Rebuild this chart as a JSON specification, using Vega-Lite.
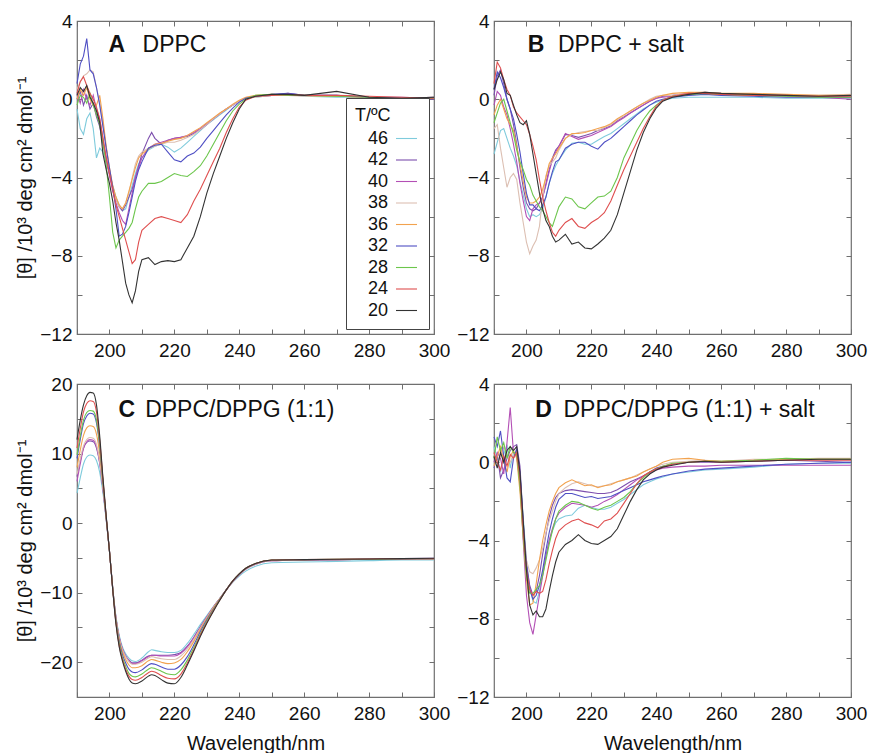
{
"$schema": "https://vega.github.io/schema/vega-lite/v6.json",
"autosize": {"type": "pad"},
"padding": {"left": 15, "top": 11, "right": 2, "bottom": 4},
"background": "white",
"config": {
  "font": "Liberation Sans",
  "view": {"stroke": "#6f6f6f", "strokeWidth": 1.2},
  "axis": {"domain": false, "grid": false, "tickColor": "#6f6f6f", "tickSize": -5, "tickWidth": 1, "labelFont": "Liberation Sans", "labelFontSize": 19, "labelColor": "#111111", "titleFont": "Liberation Sans", "titleFontSize": 20, "titleFontWeight": "normal", "titleColor": "#111111", "labelOverlap": false, "labelFlush": false},
  "axisX": {"labelPadding": 12, "titlePadding": 10},
  "axisY": {"labelPadding": 10, "titlePadding": 4},
  "line": {"strokeWidth": 1.1}
},
"datasets": {
"A": [
{"t":46,"w":190,"v":-0.5},{"t":46,"w":191,"v":-1.5},{"t":46,"w":192,"v":-1.8},{"t":46,"w":193,"v":-1.0},{"t":46,"w":194,"v":-0.7},{"t":46,"w":195,"v":-1.5},{"t":46,"w":196,"v":-3.0},{"t":46,"w":197,"v":-2.5},{"t":46,"w":198,"v":-2.7},{"t":46,"w":199,"v":-3.3},{"t":46,"w":200,"v":-3.8},{"t":46,"w":201,"v":-4.4},{"t":46,"w":202,"v":-5.0},{"t":46,"w":203,"v":-5.4},{"t":46,"w":204,"v":-5.7},{"t":46,"w":205,"v":-5.6},{"t":46,"w":206,"v":-5.0},{"t":46,"w":207,"v":-4.4},{"t":46,"w":208,"v":-3.8},{"t":46,"w":209,"v":-3.3},{"t":46,"w":210,"v":-3.0},{"t":46,"w":212,"v":-2.6},{"t":46,"w":214,"v":-2.4},{"t":46,"w":216,"v":-2.3},{"t":46,"w":218,"v":-2.45},{"t":46,"w":220,"v":-2.7},{"t":46,"w":222,"v":-2.5},{"t":46,"w":224,"v":-2.2},{"t":46,"w":226,"v":-1.9},{"t":46,"w":228,"v":-1.6},{"t":46,"w":230,"v":-1.3},{"t":46,"w":232,"v":-1.05},{"t":46,"w":234,"v":-0.8},{"t":46,"w":236,"v":-0.55},{"t":46,"w":238,"v":-0.3},{"t":46,"w":240,"v":-0.1},{"t":46,"w":242,"v":0.05},{"t":46,"w":245,"v":0.1},{"t":46,"w":250,"v":0.2},{"t":46,"w":255,"v":0.25},{"t":46,"w":260,"v":0.15},{"t":46,"w":270,"v":0.1},{"t":46,"w":280,"v":0.1},{"t":46,"w":290,"v":0.0},{"t":46,"w":300,"v":0.05},
{"t":42,"w":190,"v":0.0},{"t":42,"w":191,"v":0.4},{"t":42,"w":192,"v":-0.3},{"t":42,"w":193,"v":0.2},{"t":42,"w":194,"v":-0.5},{"t":42,"w":195,"v":-0.2},{"t":42,"w":196,"v":-0.9},{"t":42,"w":197,"v":-1.4},{"t":42,"w":198,"v":-2.3},{"t":42,"w":199,"v":-3.0},{"t":42,"w":200,"v":-3.8},{"t":42,"w":201,"v":-4.5},{"t":42,"w":202,"v":-5.1},{"t":42,"w":203,"v":-5.5},{"t":42,"w":204,"v":-5.7},{"t":42,"w":205,"v":-5.4},{"t":42,"w":206,"v":-5.0},{"t":42,"w":207,"v":-4.6},{"t":42,"w":208,"v":-4.0},{"t":42,"w":209,"v":-3.4},{"t":42,"w":210,"v":-2.8},{"t":42,"w":212,"v":-2.0},{"t":42,"w":213,"v":-1.7},{"t":42,"w":214,"v":-2.0},{"t":42,"w":216,"v":-2.3},{"t":42,"w":218,"v":-2.1},{"t":42,"w":220,"v":-2.0},{"t":42,"w":222,"v":-1.95},{"t":42,"w":224,"v":-1.9},{"t":42,"w":226,"v":-1.75},{"t":42,"w":228,"v":-1.55},{"t":42,"w":230,"v":-1.3},{"t":42,"w":232,"v":-1.0},{"t":42,"w":234,"v":-0.75},{"t":42,"w":236,"v":-0.5},{"t":42,"w":238,"v":-0.3},{"t":42,"w":240,"v":-0.1},{"t":42,"w":242,"v":0.05},{"t":42,"w":245,"v":0.15},{"t":42,"w":250,"v":0.2},{"t":42,"w":255,"v":0.3},{"t":42,"w":260,"v":0.2},{"t":42,"w":270,"v":0.2},{"t":42,"w":280,"v":0.1},{"t":42,"w":290,"v":0.05},{"t":42,"w":300,"v":0.0},
{"t":40,"w":190,"v":0.3},{"t":40,"w":191,"v":-0.2},{"t":40,"w":192,"v":0.5},{"t":40,"w":193,"v":0.0},{"t":40,"w":194,"v":-0.3},{"t":40,"w":195,"v":0.2},{"t":40,"w":196,"v":-0.5},{"t":40,"w":197,"v":-1.0},{"t":40,"w":198,"v":-2.0},{"t":40,"w":199,"v":-3.0},{"t":40,"w":200,"v":-3.9},{"t":40,"w":201,"v":-4.7},{"t":40,"w":202,"v":-5.3},{"t":40,"w":203,"v":-5.8},{"t":40,"w":204,"v":-6.2},{"t":40,"w":205,"v":-6.4},{"t":40,"w":206,"v":-5.6},{"t":40,"w":207,"v":-4.8},{"t":40,"w":208,"v":-4.0},{"t":40,"w":209,"v":-3.5},{"t":40,"w":210,"v":-3.0},{"t":40,"w":212,"v":-2.5},{"t":40,"w":214,"v":-2.3},{"t":40,"w":216,"v":-2.2},{"t":40,"w":218,"v":-2.1},{"t":40,"w":220,"v":-2.0},{"t":40,"w":222,"v":-1.95},{"t":40,"w":224,"v":-1.85},{"t":40,"w":226,"v":-1.7},{"t":40,"w":228,"v":-1.5},{"t":40,"w":230,"v":-1.25},{"t":40,"w":232,"v":-1.0},{"t":40,"w":234,"v":-0.75},{"t":40,"w":236,"v":-0.5},{"t":40,"w":238,"v":-0.3},{"t":40,"w":240,"v":-0.1},{"t":40,"w":242,"v":0.05},{"t":40,"w":245,"v":0.15},{"t":40,"w":250,"v":0.2},{"t":40,"w":255,"v":0.25},{"t":40,"w":260,"v":0.2},{"t":40,"w":270,"v":0.15},{"t":40,"w":280,"v":0.1},{"t":40,"w":290,"v":0.1},{"t":40,"w":300,"v":0.05},
{"t":38,"w":190,"v":0.5},{"t":38,"w":191,"v":0.9},{"t":38,"w":192,"v":1.2},{"t":38,"w":193,"v":1.3},{"t":38,"w":194,"v":1.5},{"t":38,"w":195,"v":1.4},{"t":38,"w":196,"v":0.6},{"t":38,"w":197,"v":-0.2},{"t":38,"w":198,"v":-1.3},{"t":38,"w":199,"v":-2.5},{"t":38,"w":200,"v":-3.6},{"t":38,"w":201,"v":-4.5},{"t":38,"w":202,"v":-5.1},{"t":38,"w":203,"v":-5.5},{"t":38,"w":204,"v":-5.6},{"t":38,"w":205,"v":-5.3},{"t":38,"w":206,"v":-4.8},{"t":38,"w":207,"v":-4.0},{"t":38,"w":208,"v":-3.3},{"t":38,"w":209,"v":-2.9},{"t":38,"w":210,"v":-2.7},{"t":38,"w":212,"v":-2.5},{"t":38,"w":214,"v":-2.4},{"t":38,"w":216,"v":-2.3},{"t":38,"w":218,"v":-2.2},{"t":38,"w":220,"v":-2.2},{"t":38,"w":222,"v":-2.1},{"t":38,"w":224,"v":-1.95},{"t":38,"w":226,"v":-1.8},{"t":38,"w":228,"v":-1.55},{"t":38,"w":230,"v":-1.3},{"t":38,"w":232,"v":-1.0},{"t":38,"w":234,"v":-0.75},{"t":38,"w":236,"v":-0.5},{"t":38,"w":238,"v":-0.3},{"t":38,"w":240,"v":-0.1},{"t":38,"w":242,"v":0.05},{"t":38,"w":245,"v":0.1},{"t":38,"w":250,"v":0.2},{"t":38,"w":255,"v":0.2},{"t":38,"w":260,"v":0.15},{"t":38,"w":270,"v":0.15},{"t":38,"w":280,"v":0.1},{"t":38,"w":290,"v":0.05},{"t":38,"w":300,"v":0.05},
{"t":36,"w":190,"v":0.0},{"t":36,"w":191,"v":0.5},{"t":36,"w":192,"v":0.2},{"t":36,"w":193,"v":0.6},{"t":36,"w":194,"v":0.0},{"t":36,"w":195,"v":-0.3},{"t":36,"w":196,"v":-0.3},{"t":36,"w":197,"v":0.2},{"t":36,"w":198,"v":-1.0},{"t":36,"w":199,"v":-2.4},{"t":36,"w":200,"v":-3.5},{"t":36,"w":201,"v":-4.4},{"t":36,"w":202,"v":-5.0},{"t":36,"w":203,"v":-5.4},{"t":36,"w":204,"v":-5.6},{"t":36,"w":205,"v":-5.3},{"t":36,"w":206,"v":-4.7},{"t":36,"w":207,"v":-4.1},{"t":36,"w":208,"v":-3.5},{"t":36,"w":209,"v":-3.0},{"t":36,"w":210,"v":-2.8},{"t":36,"w":212,"v":-2.55},{"t":36,"w":214,"v":-2.3},{"t":36,"w":216,"v":-2.25},{"t":36,"w":218,"v":-2.15},{"t":36,"w":220,"v":-2.05},{"t":36,"w":222,"v":-2.0},{"t":36,"w":224,"v":-1.85},{"t":36,"w":226,"v":-1.65},{"t":36,"w":228,"v":-1.45},{"t":36,"w":230,"v":-1.2},{"t":36,"w":232,"v":-0.95},{"t":36,"w":234,"v":-0.7},{"t":36,"w":236,"v":-0.5},{"t":36,"w":238,"v":-0.25},{"t":36,"w":240,"v":-0.05},{"t":36,"w":242,"v":0.1},{"t":36,"w":245,"v":0.2},{"t":36,"w":250,"v":0.25},{"t":36,"w":255,"v":0.2},{"t":36,"w":260,"v":0.2},{"t":36,"w":270,"v":0.15},{"t":36,"w":280,"v":0.1},{"t":36,"w":290,"v":0.05},{"t":36,"w":300,"v":0.1},
{"t":32,"w":190,"v":0.8},{"t":32,"w":191,"v":1.8},{"t":32,"w":192,"v":2.2},{"t":32,"w":193,"v":3.1},{"t":32,"w":194,"v":1.5},{"t":32,"w":195,"v":1.3},{"t":32,"w":196,"v":0.6},{"t":32,"w":197,"v":-0.3},{"t":32,"w":198,"v":-1.4},{"t":32,"w":199,"v":-2.5},{"t":32,"w":200,"v":-3.5},{"t":32,"w":201,"v":-4.5},{"t":32,"w":202,"v":-5.6},{"t":32,"w":203,"v":-7.0},{"t":32,"w":204,"v":-6.9},{"t":32,"w":205,"v":-6.5},{"t":32,"w":206,"v":-5.8},{"t":32,"w":207,"v":-5.0},{"t":32,"w":208,"v":-4.2},{"t":32,"w":209,"v":-3.6},{"t":32,"w":210,"v":-3.2},{"t":32,"w":212,"v":-2.5},{"t":32,"w":214,"v":-2.35},{"t":32,"w":216,"v":-2.3},{"t":32,"w":218,"v":-2.7},{"t":32,"w":220,"v":-3.1},{"t":32,"w":222,"v":-3.2},{"t":32,"w":224,"v":-2.9},{"t":32,"w":226,"v":-2.75},{"t":32,"w":228,"v":-2.45},{"t":32,"w":230,"v":-2.0},{"t":32,"w":232,"v":-1.6},{"t":32,"w":234,"v":-1.2},{"t":32,"w":236,"v":-0.8},{"t":32,"w":238,"v":-0.45},{"t":32,"w":240,"v":-0.15},{"t":32,"w":242,"v":0.05},{"t":32,"w":245,"v":0.15},{"t":32,"w":250,"v":0.25},{"t":32,"w":255,"v":0.3},{"t":32,"w":260,"v":0.2},{"t":32,"w":270,"v":0.2},{"t":32,"w":280,"v":0.1},{"t":32,"w":290,"v":0.05},{"t":32,"w":300,"v":0.1},
{"t":28,"w":190,"v":-0.3},{"t":28,"w":191,"v":0.2},{"t":28,"w":192,"v":0.1},{"t":28,"w":193,"v":-0.2},{"t":28,"w":194,"v":0.3},{"t":28,"w":195,"v":-0.3},{"t":28,"w":196,"v":-0.8},{"t":28,"w":197,"v":-1.3},{"t":28,"w":198,"v":-2.2},{"t":28,"w":199,"v":-3.4},{"t":28,"w":200,"v":-5.0},{"t":28,"w":201,"v":-6.8},{"t":28,"w":202,"v":-7.6},{"t":28,"w":203,"v":-7.2},{"t":28,"w":204,"v":-7.0},{"t":28,"w":205,"v":-6.8},{"t":28,"w":206,"v":-6.6},{"t":28,"w":207,"v":-6.3},{"t":28,"w":208,"v":-5.6},{"t":28,"w":209,"v":-5.0},{"t":28,"w":210,"v":-4.7},{"t":28,"w":212,"v":-4.3},{"t":28,"w":214,"v":-4.3},{"t":28,"w":216,"v":-4.2},{"t":28,"w":218,"v":-4.0},{"t":28,"w":220,"v":-3.8},{"t":28,"w":222,"v":-3.9},{"t":28,"w":224,"v":-3.95},{"t":28,"w":226,"v":-3.7},{"t":28,"w":228,"v":-3.4},{"t":28,"w":230,"v":-2.9},{"t":28,"w":232,"v":-2.3},{"t":28,"w":234,"v":-1.7},{"t":28,"w":236,"v":-1.1},{"t":28,"w":238,"v":-0.6},{"t":28,"w":240,"v":-0.25},{"t":28,"w":242,"v":0.0},{"t":28,"w":245,"v":0.2},{"t":28,"w":250,"v":0.25},{"t":28,"w":255,"v":0.2},{"t":28,"w":260,"v":0.2},{"t":28,"w":270,"v":0.15},{"t":28,"w":280,"v":0.1},{"t":28,"w":290,"v":0.0},{"t":28,"w":300,"v":0.05},
{"t":24,"w":190,"v":0.3},{"t":24,"w":191,"v":0.9},{"t":24,"w":192,"v":1.15},{"t":24,"w":193,"v":0.7},{"t":24,"w":194,"v":0.3},{"t":24,"w":195,"v":0.0},{"t":24,"w":196,"v":-0.4},{"t":24,"w":197,"v":-1.0},{"t":24,"w":198,"v":-2.0},{"t":24,"w":199,"v":-3.0},{"t":24,"w":200,"v":-3.8},{"t":24,"w":201,"v":-4.6},{"t":24,"w":202,"v":-5.4},{"t":24,"w":203,"v":-6.0},{"t":24,"w":204,"v":-6.6},{"t":24,"w":205,"v":-7.2},{"t":24,"w":206,"v":-7.8},{"t":24,"w":207,"v":-8.4},{"t":24,"w":208,"v":-8.2},{"t":24,"w":209,"v":-7.3},{"t":24,"w":210,"v":-6.7},{"t":24,"w":212,"v":-6.4},{"t":24,"w":214,"v":-6.1},{"t":24,"w":216,"v":-6.0},{"t":24,"w":218,"v":-6.1},{"t":24,"w":220,"v":-6.2},{"t":24,"w":222,"v":-6.3},{"t":24,"w":224,"v":-5.9},{"t":24,"w":226,"v":-5.2},{"t":24,"w":228,"v":-4.6},{"t":24,"w":230,"v":-3.9},{"t":24,"w":232,"v":-3.2},{"t":24,"w":234,"v":-2.5},{"t":24,"w":236,"v":-1.7},{"t":24,"w":238,"v":-1.0},{"t":24,"w":240,"v":-0.4},{"t":24,"w":242,"v":-0.05},{"t":24,"w":245,"v":0.15},{"t":24,"w":250,"v":0.2},{"t":24,"w":255,"v":0.25},{"t":24,"w":260,"v":0.2},{"t":24,"w":270,"v":0.2},{"t":24,"w":280,"v":0.15},{"t":24,"w":290,"v":0.1},{"t":24,"w":300,"v":0.05},
{"t":20,"w":190,"v":0.2},{"t":20,"w":191,"v":0.6},{"t":20,"w":192,"v":0.4},{"t":20,"w":193,"v":0.7},{"t":20,"w":194,"v":0.1},{"t":20,"w":195,"v":-0.2},{"t":20,"w":196,"v":-0.6},{"t":20,"w":197,"v":-1.2},{"t":20,"w":198,"v":-2.8},{"t":20,"w":199,"v":-3.6},{"t":20,"w":200,"v":-4.3},{"t":20,"w":201,"v":-5.2},{"t":20,"w":202,"v":-6.3},{"t":20,"w":203,"v":-7.2},{"t":20,"w":204,"v":-8.3},{"t":20,"w":205,"v":-9.4},{"t":20,"w":206,"v":-10.0},{"t":20,"w":207,"v":-10.4},{"t":20,"w":208,"v":-9.8},{"t":20,"w":209,"v":-8.8},{"t":20,"w":210,"v":-8.2},{"t":20,"w":212,"v":-8.1},{"t":20,"w":214,"v":-8.45},{"t":20,"w":216,"v":-8.3},{"t":20,"w":218,"v":-8.25},{"t":20,"w":220,"v":-8.3},{"t":20,"w":222,"v":-8.2},{"t":20,"w":224,"v":-7.6},{"t":20,"w":226,"v":-7.0},{"t":20,"w":228,"v":-6.0},{"t":20,"w":230,"v":-4.8},{"t":20,"w":232,"v":-3.8},{"t":20,"w":234,"v":-2.9},{"t":20,"w":236,"v":-2.0},{"t":20,"w":238,"v":-1.2},{"t":20,"w":240,"v":-0.5},{"t":20,"w":242,"v":0.0},{"t":20,"w":245,"v":0.15},{"t":20,"w":250,"v":0.25},{"t":20,"w":255,"v":0.25},{"t":20,"w":260,"v":0.2},{"t":20,"w":270,"v":0.4},{"t":20,"w":280,"v":0.1},{"t":20,"w":290,"v":0.05},{"t":20,"w":300,"v":0.1}
],
"B": [
{"t":46,"w":190,"v":-2.8},{"t":46,"w":191,"v":-2.2},{"t":46,"w":192,"v":-1.6},{"t":46,"w":193,"v":-1.5},{"t":46,"w":194,"v":-2.0},{"t":46,"w":195,"v":-2.5},{"t":46,"w":196,"v":-2.9},{"t":46,"w":197,"v":-3.4},{"t":46,"w":198,"v":-4.2},{"t":46,"w":199,"v":-4.9},{"t":46,"w":200,"v":-5.6},{"t":46,"w":201,"v":-6.0},{"t":46,"w":202,"v":-5.9},{"t":46,"w":203,"v":-6.0},{"t":46,"w":204,"v":-5.9},{"t":46,"w":205,"v":-5.6},{"t":46,"w":206,"v":-5.0},{"t":46,"w":207,"v":-4.3},{"t":46,"w":208,"v":-3.8},{"t":46,"w":209,"v":-3.4},{"t":46,"w":210,"v":-3.1},{"t":46,"w":212,"v":-2.6},{"t":46,"w":214,"v":-2.25},{"t":46,"w":216,"v":-2.2},{"t":46,"w":218,"v":-2.3},{"t":46,"w":220,"v":-2.3},{"t":46,"w":222,"v":-2.1},{"t":46,"w":224,"v":-1.9},{"t":46,"w":226,"v":-1.75},{"t":46,"w":228,"v":-1.5},{"t":46,"w":230,"v":-1.25},{"t":46,"w":232,"v":-1.0},{"t":46,"w":234,"v":-0.75},{"t":46,"w":236,"v":-0.5},{"t":46,"w":238,"v":-0.3},{"t":46,"w":240,"v":-0.15},{"t":46,"w":242,"v":-0.05},{"t":46,"w":245,"v":0.05},{"t":46,"w":250,"v":0.1},{"t":46,"w":255,"v":0.1},{"t":46,"w":260,"v":0.1},{"t":46,"w":270,"v":0.1},{"t":46,"w":280,"v":0.05},{"t":46,"w":290,"v":0.05},{"t":46,"w":300,"v":0.05},
{"t":42,"w":190,"v":0.2},{"t":42,"w":191,"v":1.2},{"t":42,"w":192,"v":1.5},{"t":42,"w":193,"v":0.8},{"t":42,"w":194,"v":0.0},{"t":42,"w":195,"v":-0.5},{"t":42,"w":196,"v":-1.3},{"t":42,"w":197,"v":-2.3},{"t":42,"w":198,"v":-3.5},{"t":42,"w":199,"v":-4.5},{"t":42,"w":200,"v":-5.3},{"t":42,"w":201,"v":-5.6},{"t":42,"w":202,"v":-5.7},{"t":42,"w":203,"v":-5.6},{"t":42,"w":204,"v":-5.3},{"t":42,"w":205,"v":-5.0},{"t":42,"w":206,"v":-4.3},{"t":42,"w":207,"v":-3.6},{"t":42,"w":208,"v":-3.0},{"t":42,"w":209,"v":-2.6},{"t":42,"w":210,"v":-2.4},{"t":42,"w":212,"v":-1.8},{"t":42,"w":214,"v":-1.85},{"t":42,"w":216,"v":-1.95},{"t":42,"w":218,"v":-1.85},{"t":42,"w":220,"v":-1.75},{"t":42,"w":222,"v":-1.6},{"t":42,"w":224,"v":-1.5},{"t":42,"w":226,"v":-1.35},{"t":42,"w":228,"v":-1.1},{"t":42,"w":230,"v":-0.9},{"t":42,"w":232,"v":-0.7},{"t":42,"w":234,"v":-0.5},{"t":42,"w":236,"v":-0.3},{"t":42,"w":238,"v":-0.1},{"t":42,"w":240,"v":0.05},{"t":42,"w":242,"v":0.15},{"t":42,"w":245,"v":0.2},{"t":42,"w":250,"v":0.3},{"t":42,"w":255,"v":0.35},{"t":42,"w":260,"v":0.3},{"t":42,"w":270,"v":0.25},{"t":42,"w":280,"v":0.2},{"t":42,"w":290,"v":0.15},{"t":42,"w":300,"v":0.1},
{"t":40,"w":190,"v":-0.3},{"t":40,"w":191,"v":0.4},{"t":40,"w":192,"v":0.2},{"t":40,"w":193,"v":-0.4},{"t":40,"w":194,"v":-0.8},{"t":40,"w":195,"v":-1.5},{"t":40,"w":196,"v":-2.3},{"t":40,"w":197,"v":-3.2},{"t":40,"w":198,"v":-4.3},{"t":40,"w":199,"v":-5.2},{"t":40,"w":200,"v":-6.0},{"t":40,"w":201,"v":-6.2},{"t":40,"w":202,"v":-5.6},{"t":40,"w":203,"v":-5.4},{"t":40,"w":204,"v":-5.3},{"t":40,"w":205,"v":-5.0},{"t":40,"w":206,"v":-4.4},{"t":40,"w":207,"v":-3.7},{"t":40,"w":208,"v":-3.1},{"t":40,"w":209,"v":-2.7},{"t":40,"w":210,"v":-2.4},{"t":40,"w":212,"v":-1.75},{"t":40,"w":214,"v":-1.9},{"t":40,"w":216,"v":-2.05},{"t":40,"w":218,"v":-1.95},{"t":40,"w":220,"v":-1.85},{"t":40,"w":222,"v":-1.7},{"t":40,"w":224,"v":-1.55},{"t":40,"w":226,"v":-1.4},{"t":40,"w":228,"v":-1.15},{"t":40,"w":230,"v":-0.95},{"t":40,"w":232,"v":-0.7},{"t":40,"w":234,"v":-0.5},{"t":40,"w":236,"v":-0.3},{"t":40,"w":238,"v":-0.1},{"t":40,"w":240,"v":0.05},{"t":40,"w":242,"v":0.1},{"t":40,"w":245,"v":0.15},{"t":40,"w":250,"v":0.25},{"t":40,"w":255,"v":0.3},{"t":40,"w":260,"v":0.25},{"t":40,"w":270,"v":0.2},{"t":40,"w":280,"v":0.15},{"t":40,"w":290,"v":0.1},{"t":40,"w":300,"v":0.0},
{"t":38,"w":190,"v":-1.5},{"t":38,"w":191,"v":-1.3},{"t":38,"w":192,"v":-2.5},{"t":38,"w":193,"v":-3.5},{"t":38,"w":194,"v":-4.5},{"t":38,"w":195,"v":-4.0},{"t":38,"w":196,"v":-3.8},{"t":38,"w":197,"v":-4.1},{"t":38,"w":198,"v":-5.3},{"t":38,"w":199,"v":-6.3},{"t":38,"w":200,"v":-7.3},{"t":38,"w":201,"v":-7.9},{"t":38,"w":202,"v":-7.5},{"t":38,"w":203,"v":-7.2},{"t":38,"w":204,"v":-6.5},{"t":38,"w":205,"v":-5.0},{"t":38,"w":206,"v":-3.9},{"t":38,"w":207,"v":-3.4},{"t":38,"w":208,"v":-3.2},{"t":38,"w":209,"v":-3.0},{"t":38,"w":210,"v":-2.6},{"t":38,"w":212,"v":-2.0},{"t":38,"w":214,"v":-1.8},{"t":38,"w":216,"v":-1.7},{"t":38,"w":218,"v":-1.65},{"t":38,"w":220,"v":-1.6},{"t":38,"w":222,"v":-1.6},{"t":38,"w":224,"v":-1.45},{"t":38,"w":226,"v":-1.3},{"t":38,"w":228,"v":-1.05},{"t":38,"w":230,"v":-0.85},{"t":38,"w":232,"v":-0.6},{"t":38,"w":234,"v":-0.4},{"t":38,"w":236,"v":-0.2},{"t":38,"w":238,"v":0.0},{"t":38,"w":240,"v":0.15},{"t":38,"w":242,"v":0.2},{"t":38,"w":245,"v":0.2},{"t":38,"w":250,"v":0.3},{"t":38,"w":255,"v":0.3},{"t":38,"w":260,"v":0.25},{"t":38,"w":270,"v":0.25},{"t":38,"w":280,"v":0.2},{"t":38,"w":290,"v":0.2},{"t":38,"w":300,"v":0.25},
{"t":36,"w":190,"v":-0.8},{"t":36,"w":191,"v":-0.3},{"t":36,"w":192,"v":0.0},{"t":36,"w":193,"v":-0.5},{"t":36,"w":194,"v":-1.0},{"t":36,"w":195,"v":-1.3},{"t":36,"w":196,"v":-1.6},{"t":36,"w":197,"v":-2.4},{"t":36,"w":198,"v":-3.3},{"t":36,"w":199,"v":-4.2},{"t":36,"w":200,"v":-5.0},{"t":36,"w":201,"v":-5.3},{"t":36,"w":202,"v":-5.3},{"t":36,"w":203,"v":-5.2},{"t":36,"w":204,"v":-5.0},{"t":36,"w":205,"v":-4.6},{"t":36,"w":206,"v":-4.0},{"t":36,"w":207,"v":-3.3},{"t":36,"w":208,"v":-3.0},{"t":36,"w":209,"v":-2.8},{"t":36,"w":210,"v":-2.5},{"t":36,"w":212,"v":-2.0},{"t":36,"w":214,"v":-1.75},{"t":36,"w":216,"v":-1.75},{"t":36,"w":218,"v":-1.7},{"t":36,"w":220,"v":-1.6},{"t":36,"w":222,"v":-1.5},{"t":36,"w":224,"v":-1.4},{"t":36,"w":226,"v":-1.25},{"t":36,"w":228,"v":-1.0},{"t":36,"w":230,"v":-0.8},{"t":36,"w":232,"v":-0.6},{"t":36,"w":234,"v":-0.4},{"t":36,"w":236,"v":-0.2},{"t":36,"w":238,"v":-0.05},{"t":36,"w":240,"v":0.1},{"t":36,"w":242,"v":0.2},{"t":36,"w":245,"v":0.3},{"t":36,"w":250,"v":0.35},{"t":36,"w":255,"v":0.35},{"t":36,"w":260,"v":0.3},{"t":36,"w":270,"v":0.3},{"t":36,"w":280,"v":0.25},{"t":36,"w":290,"v":0.2},{"t":36,"w":300,"v":0.2},
{"t":32,"w":190,"v":0.5},{"t":32,"w":191,"v":1.4},{"t":32,"w":192,"v":1.1},{"t":32,"w":193,"v":0.6},{"t":32,"w":194,"v":0.0},{"t":32,"w":195,"v":-0.5},{"t":32,"w":196,"v":-1.0},{"t":32,"w":197,"v":-1.8},{"t":32,"w":198,"v":-2.7},{"t":32,"w":199,"v":-3.8},{"t":32,"w":200,"v":-4.8},{"t":32,"w":201,"v":-5.4},{"t":32,"w":202,"v":-5.4},{"t":32,"w":203,"v":-5.6},{"t":32,"w":204,"v":-5.7},{"t":32,"w":205,"v":-5.4},{"t":32,"w":206,"v":-5.0},{"t":32,"w":207,"v":-4.3},{"t":32,"w":208,"v":-3.7},{"t":32,"w":209,"v":-3.2},{"t":32,"w":210,"v":-3.1},{"t":32,"w":212,"v":-2.5},{"t":32,"w":214,"v":-2.3},{"t":32,"w":216,"v":-2.2},{"t":32,"w":218,"v":-2.2},{"t":32,"w":220,"v":-2.4},{"t":32,"w":222,"v":-2.55},{"t":32,"w":224,"v":-2.2},{"t":32,"w":226,"v":-2.0},{"t":32,"w":228,"v":-1.7},{"t":32,"w":230,"v":-1.4},{"t":32,"w":232,"v":-1.1},{"t":32,"w":234,"v":-0.8},{"t":32,"w":236,"v":-0.55},{"t":32,"w":238,"v":-0.3},{"t":32,"w":240,"v":-0.1},{"t":32,"w":242,"v":0.0},{"t":32,"w":245,"v":0.1},{"t":32,"w":250,"v":0.2},{"t":32,"w":255,"v":0.25},{"t":32,"w":260,"v":0.2},{"t":32,"w":270,"v":0.15},{"t":32,"w":280,"v":0.1},{"t":32,"w":290,"v":0.1},{"t":32,"w":300,"v":0.1},
{"t":28,"w":190,"v":-1.2},{"t":28,"w":191,"v":-0.7},{"t":28,"w":192,"v":-0.2},{"t":28,"w":193,"v":0.0},{"t":28,"w":194,"v":-0.6},{"t":28,"w":195,"v":-1.2},{"t":28,"w":196,"v":-1.8},{"t":28,"w":197,"v":-2.6},{"t":28,"w":198,"v":-3.2},{"t":28,"w":199,"v":-3.6},{"t":28,"w":200,"v":-4.1},{"t":28,"w":201,"v":-4.4},{"t":28,"w":202,"v":-4.9},{"t":28,"w":203,"v":-5.2},{"t":28,"w":204,"v":-5.5},{"t":28,"w":205,"v":-5.7},{"t":28,"w":206,"v":-6.0},{"t":28,"w":207,"v":-6.3},{"t":28,"w":208,"v":-6.5},{"t":28,"w":209,"v":-6.0},{"t":28,"w":210,"v":-5.5},{"t":28,"w":212,"v":-5.0},{"t":28,"w":214,"v":-5.1},{"t":28,"w":216,"v":-5.5},{"t":28,"w":218,"v":-5.6},{"t":28,"w":220,"v":-5.3},{"t":28,"w":222,"v":-5.0},{"t":28,"w":224,"v":-4.95},{"t":28,"w":226,"v":-4.7},{"t":28,"w":228,"v":-4.0},{"t":28,"w":230,"v":-3.0},{"t":28,"w":232,"v":-2.3},{"t":28,"w":234,"v":-1.6},{"t":28,"w":236,"v":-1.05},{"t":28,"w":238,"v":-0.6},{"t":28,"w":240,"v":-0.3},{"t":28,"w":242,"v":-0.05},{"t":28,"w":245,"v":0.15},{"t":28,"w":250,"v":0.25},{"t":28,"w":255,"v":0.3},{"t":28,"w":260,"v":0.25},{"t":28,"w":270,"v":0.2},{"t":28,"w":280,"v":0.15},{"t":28,"w":290,"v":0.1},{"t":28,"w":300,"v":0.1},
{"t":24,"w":190,"v":0.8},{"t":24,"w":191,"v":1.9},{"t":24,"w":192,"v":1.6},{"t":24,"w":193,"v":1.0},{"t":24,"w":194,"v":0.5},{"t":24,"w":195,"v":0.2},{"t":24,"w":196,"v":-0.4},{"t":24,"w":197,"v":-0.7},{"t":24,"w":198,"v":-0.9},{"t":24,"w":199,"v":-1.1},{"t":24,"w":200,"v":-1.3},{"t":24,"w":201,"v":-1.8},{"t":24,"w":202,"v":-2.4},{"t":24,"w":203,"v":-3.1},{"t":24,"w":204,"v":-4.1},{"t":24,"w":205,"v":-5.0},{"t":24,"w":206,"v":-5.7},{"t":24,"w":207,"v":-6.3},{"t":24,"w":208,"v":-6.8},{"t":24,"w":209,"v":-7.0},{"t":24,"w":210,"v":-6.7},{"t":24,"w":212,"v":-6.3},{"t":24,"w":214,"v":-6.1},{"t":24,"w":216,"v":-6.5},{"t":24,"w":218,"v":-6.6},{"t":24,"w":220,"v":-6.3},{"t":24,"w":222,"v":-6.1},{"t":24,"w":224,"v":-5.8},{"t":24,"w":226,"v":-5.2},{"t":24,"w":228,"v":-4.4},{"t":24,"w":230,"v":-3.6},{"t":24,"w":232,"v":-2.9},{"t":24,"w":234,"v":-2.2},{"t":24,"w":236,"v":-1.5},{"t":24,"w":238,"v":-0.9},{"t":24,"w":240,"v":-0.35},{"t":24,"w":242,"v":-0.05},{"t":24,"w":245,"v":0.15},{"t":24,"w":250,"v":0.3},{"t":24,"w":255,"v":0.3},{"t":24,"w":260,"v":0.25},{"t":24,"w":270,"v":0.2},{"t":24,"w":280,"v":0.2},{"t":24,"w":290,"v":0.15},{"t":24,"w":300,"v":0.15},
{"t":20,"w":190,"v":0.5},{"t":20,"w":191,"v":1.0},{"t":20,"w":192,"v":1.4},{"t":20,"w":193,"v":1.0},{"t":20,"w":194,"v":0.3},{"t":20,"w":195,"v":0.2},{"t":20,"w":196,"v":-0.3},{"t":20,"w":197,"v":-0.8},{"t":20,"w":198,"v":-1.2},{"t":20,"w":199,"v":-1.3},{"t":20,"w":200,"v":-1.1},{"t":20,"w":201,"v":-1.8},{"t":20,"w":202,"v":-2.8},{"t":20,"w":203,"v":-3.8},{"t":20,"w":204,"v":-4.8},{"t":20,"w":205,"v":-5.6},{"t":20,"w":206,"v":-6.2},{"t":20,"w":207,"v":-6.5},{"t":20,"w":208,"v":-7.0},{"t":20,"w":209,"v":-7.3},{"t":20,"w":210,"v":-7.2},{"t":20,"w":212,"v":-6.9},{"t":20,"w":214,"v":-7.4},{"t":20,"w":216,"v":-7.3},{"t":20,"w":218,"v":-7.6},{"t":20,"w":220,"v":-7.65},{"t":20,"w":222,"v":-7.4},{"t":20,"w":224,"v":-7.1},{"t":20,"w":226,"v":-6.7},{"t":20,"w":228,"v":-5.9},{"t":20,"w":230,"v":-4.8},{"t":20,"w":232,"v":-3.7},{"t":20,"w":234,"v":-2.6},{"t":20,"w":236,"v":-1.7},{"t":20,"w":238,"v":-1.0},{"t":20,"w":240,"v":-0.45},{"t":20,"w":242,"v":-0.1},{"t":20,"w":245,"v":0.1},{"t":20,"w":250,"v":0.25},{"t":20,"w":255,"v":0.35},{"t":20,"w":260,"v":0.3},{"t":20,"w":270,"v":0.25},{"t":20,"w":280,"v":0.2},{"t":20,"w":290,"v":0.15},{"t":20,"w":300,"v":0.2}
],
"C": [
{"t":46,"w":190,"v":4.3},{"t":46,"w":191,"v":6.5},{"t":46,"w":192,"v":8.5},{"t":46,"w":193,"v":9.5},{"t":46,"w":194,"v":9.8},{"t":46,"w":195,"v":9.7},{"t":46,"w":196,"v":9.0},{"t":46,"w":197,"v":7.3},{"t":46,"w":198,"v":4.3},{"t":46,"w":199,"v":0.4},{"t":46,"w":200,"v":-4.0},{"t":46,"w":201,"v":-9.2},{"t":46,"w":202,"v":-13.4},{"t":46,"w":203,"v":-16.1},{"t":46,"w":204,"v":-17.8},{"t":46,"w":205,"v":-18.8},{"t":46,"w":206,"v":-19.4},{"t":46,"w":207,"v":-19.8},{"t":46,"w":208,"v":-19.9},{"t":46,"w":210,"v":-19.4},{"t":46,"w":212,"v":-18.5},{"t":46,"w":213,"v":-18.2},{"t":46,"w":214,"v":-18.3},{"t":46,"w":216,"v":-18.5},{"t":46,"w":218,"v":-18.6},{"t":46,"w":220,"v":-18.6},{"t":46,"w":222,"v":-18.3},{"t":46,"w":224,"v":-17.3},{"t":46,"w":226,"v":-16.0},{"t":46,"w":228,"v":-14.6},{"t":46,"w":230,"v":-13.3},{"t":46,"w":232,"v":-12.0},{"t":46,"w":234,"v":-10.8},{"t":46,"w":236,"v":-9.6},{"t":46,"w":238,"v":-8.5},{"t":46,"w":240,"v":-7.6},{"t":46,"w":242,"v":-6.9},{"t":46,"w":245,"v":-6.2},{"t":46,"w":250,"v":-5.7},{"t":46,"w":260,"v":-5.6},{"t":46,"w":270,"v":-5.5},{"t":46,"w":280,"v":-5.4},{"t":46,"w":290,"v":-5.3},{"t":46,"w":300,"v":-5.3},
{"t":42,"w":190,"v":6.7},{"t":42,"w":191,"v":8.9},{"t":42,"w":192,"v":10.8},{"t":42,"w":193,"v":11.6},{"t":42,"w":194,"v":11.8},{"t":42,"w":195,"v":11.7},{"t":42,"w":196,"v":10.8},{"t":42,"w":197,"v":8.6},{"t":42,"w":198,"v":4.9},{"t":42,"w":199,"v":0.6},{"t":42,"w":200,"v":-4.0},{"t":42,"w":201,"v":-9.3},{"t":42,"w":202,"v":-13.6},{"t":42,"w":203,"v":-16.4},{"t":42,"w":204,"v":-18.1},{"t":42,"w":205,"v":-19.1},{"t":42,"w":206,"v":-19.7},{"t":42,"w":207,"v":-20.1},{"t":42,"w":208,"v":-20.1},{"t":42,"w":210,"v":-19.7},{"t":42,"w":212,"v":-19.1},{"t":42,"w":213,"v":-19.0},{"t":42,"w":214,"v":-19.0},{"t":42,"w":216,"v":-19.0},{"t":42,"w":218,"v":-19.0},{"t":42,"w":220,"v":-18.9},{"t":42,"w":222,"v":-18.6},{"t":42,"w":224,"v":-17.7},{"t":42,"w":226,"v":-16.4},{"t":42,"w":228,"v":-14.9},{"t":42,"w":230,"v":-13.5},{"t":42,"w":232,"v":-12.1},{"t":42,"w":234,"v":-10.85},{"t":42,"w":236,"v":-9.6},{"t":42,"w":238,"v":-8.4},{"t":42,"w":240,"v":-7.4},{"t":42,"w":242,"v":-6.6},{"t":42,"w":245,"v":-5.9},{"t":42,"w":250,"v":-5.4},{"t":42,"w":260,"v":-5.3},{"t":42,"w":270,"v":-5.25},{"t":42,"w":280,"v":-5.2},{"t":42,"w":290,"v":-5.1},{"t":42,"w":300,"v":-5.05},
{"t":40,"w":190,"v":6.0},{"t":40,"w":191,"v":8.5},{"t":40,"w":192,"v":10.7},{"t":40,"w":193,"v":11.7},{"t":40,"w":194,"v":12.0},{"t":40,"w":195,"v":11.9},{"t":40,"w":196,"v":11.0},{"t":40,"w":197,"v":8.7},{"t":40,"w":198,"v":5.0},{"t":40,"w":199,"v":0.6},{"t":40,"w":200,"v":-4.0},{"t":40,"w":201,"v":-9.3},{"t":40,"w":202,"v":-13.6},{"t":40,"w":203,"v":-16.4},{"t":40,"w":204,"v":-18.1},{"t":40,"w":205,"v":-19.1},{"t":40,"w":206,"v":-19.8},{"t":40,"w":207,"v":-20.2},{"t":40,"w":208,"v":-20.2},{"t":40,"w":210,"v":-19.8},{"t":40,"w":212,"v":-19.2},{"t":40,"w":213,"v":-19.0},{"t":40,"w":214,"v":-19.0},{"t":40,"w":216,"v":-19.1},{"t":40,"w":218,"v":-19.1},{"t":40,"w":220,"v":-19.1},{"t":40,"w":222,"v":-18.7},{"t":40,"w":224,"v":-17.8},{"t":40,"w":226,"v":-16.5},{"t":40,"w":228,"v":-15.0},{"t":40,"w":230,"v":-13.5},{"t":40,"w":232,"v":-12.1},{"t":40,"w":234,"v":-10.85},{"t":40,"w":236,"v":-9.6},{"t":40,"w":238,"v":-8.4},{"t":40,"w":240,"v":-7.4},{"t":40,"w":242,"v":-6.6},{"t":40,"w":245,"v":-5.9},{"t":40,"w":250,"v":-5.4},{"t":40,"w":260,"v":-5.3},{"t":40,"w":270,"v":-5.25},{"t":40,"w":280,"v":-5.2},{"t":40,"w":290,"v":-5.15},{"t":40,"w":300,"v":-5.1},
{"t":38,"w":190,"v":7.0},{"t":38,"w":191,"v":9.2},{"t":38,"w":192,"v":11.1},{"t":38,"w":193,"v":12.0},{"t":38,"w":194,"v":12.3},{"t":38,"w":195,"v":12.2},{"t":38,"w":196,"v":11.3},{"t":38,"w":197,"v":8.9},{"t":38,"w":198,"v":5.1},{"t":38,"w":199,"v":0.6},{"t":38,"w":200,"v":-4.0},{"t":38,"w":201,"v":-9.3},{"t":38,"w":202,"v":-13.7},{"t":38,"w":203,"v":-16.5},{"t":38,"w":204,"v":-18.2},{"t":38,"w":205,"v":-19.2},{"t":38,"w":206,"v":-19.9},{"t":38,"w":207,"v":-20.3},{"t":38,"w":208,"v":-20.3},{"t":38,"w":210,"v":-20.0},{"t":38,"w":212,"v":-19.4},{"t":38,"w":213,"v":-19.2},{"t":38,"w":214,"v":-19.3},{"t":38,"w":216,"v":-19.5},{"t":38,"w":218,"v":-19.6},{"t":38,"w":220,"v":-19.6},{"t":38,"w":222,"v":-19.1},{"t":38,"w":224,"v":-18.1},{"t":38,"w":226,"v":-16.7},{"t":38,"w":228,"v":-15.1},{"t":38,"w":230,"v":-13.6},{"t":38,"w":232,"v":-12.15},{"t":38,"w":234,"v":-10.85},{"t":38,"w":236,"v":-9.6},{"t":38,"w":238,"v":-8.4},{"t":38,"w":240,"v":-7.4},{"t":38,"w":242,"v":-6.6},{"t":38,"w":245,"v":-5.9},{"t":38,"w":250,"v":-5.4},{"t":38,"w":260,"v":-5.3},{"t":38,"w":270,"v":-5.25},{"t":38,"w":280,"v":-5.2},{"t":38,"w":290,"v":-5.15},{"t":38,"w":300,"v":-5.1},
{"t":36,"w":190,"v":8.0},{"t":36,"w":191,"v":10.5},{"t":36,"w":192,"v":12.6},{"t":36,"w":193,"v":13.7},{"t":36,"w":194,"v":14.0},{"t":36,"w":195,"v":13.9},{"t":36,"w":196,"v":12.8},{"t":36,"w":197,"v":9.9},{"t":36,"w":198,"v":5.5},{"t":36,"w":199,"v":0.7},{"t":36,"w":200,"v":-4.0},{"t":36,"w":201,"v":-9.3},{"t":36,"w":202,"v":-13.8},{"t":36,"w":203,"v":-16.7},{"t":36,"w":204,"v":-18.5},{"t":36,"w":205,"v":-19.6},{"t":36,"w":206,"v":-20.4},{"t":36,"w":207,"v":-20.8},{"t":36,"w":208,"v":-20.8},{"t":36,"w":210,"v":-20.5},{"t":36,"w":212,"v":-19.8},{"t":36,"w":213,"v":-19.6},{"t":36,"w":214,"v":-19.7},{"t":36,"w":216,"v":-20.0},{"t":36,"w":218,"v":-20.2},{"t":36,"w":220,"v":-20.1},{"t":36,"w":222,"v":-19.6},{"t":36,"w":224,"v":-18.5},{"t":36,"w":226,"v":-17.0},{"t":36,"w":228,"v":-15.3},{"t":36,"w":230,"v":-13.7},{"t":36,"w":232,"v":-12.2},{"t":36,"w":234,"v":-10.9},{"t":36,"w":236,"v":-9.6},{"t":36,"w":238,"v":-8.35},{"t":36,"w":240,"v":-7.35},{"t":36,"w":242,"v":-6.55},{"t":36,"w":245,"v":-5.85},{"t":36,"w":250,"v":-5.35},{"t":36,"w":260,"v":-5.3},{"t":36,"w":270,"v":-5.25},{"t":36,"w":280,"v":-5.2},{"t":36,"w":290,"v":-5.15},{"t":36,"w":300,"v":-5.1},
{"t":32,"w":190,"v":9.3},{"t":32,"w":191,"v":12.0},{"t":32,"w":192,"v":14.3},{"t":32,"w":193,"v":15.4},{"t":32,"w":194,"v":15.8},{"t":32,"w":195,"v":15.7},{"t":32,"w":196,"v":14.4},{"t":32,"w":197,"v":11.0},{"t":32,"w":198,"v":5.9},{"t":32,"w":199,"v":0.8},{"t":32,"w":200,"v":-4.0},{"t":32,"w":201,"v":-9.4},{"t":32,"w":202,"v":-14.0},{"t":32,"w":203,"v":-17.0},{"t":32,"w":204,"v":-18.9},{"t":32,"w":205,"v":-20.1},{"t":32,"w":206,"v":-21.0},{"t":32,"w":207,"v":-21.4},{"t":32,"w":208,"v":-21.5},{"t":32,"w":210,"v":-21.1},{"t":32,"w":212,"v":-20.4},{"t":32,"w":213,"v":-20.2},{"t":32,"w":214,"v":-20.3},{"t":32,"w":216,"v":-20.7},{"t":32,"w":218,"v":-21.0},{"t":32,"w":220,"v":-21.0},{"t":32,"w":222,"v":-20.4},{"t":32,"w":224,"v":-19.2},{"t":32,"w":226,"v":-17.5},{"t":32,"w":228,"v":-15.6},{"t":32,"w":230,"v":-13.9},{"t":32,"w":232,"v":-12.4},{"t":32,"w":234,"v":-10.95},{"t":32,"w":236,"v":-9.6},{"t":32,"w":238,"v":-8.35},{"t":32,"w":240,"v":-7.35},{"t":32,"w":242,"v":-6.55},{"t":32,"w":245,"v":-5.85},{"t":32,"w":250,"v":-5.35},{"t":32,"w":260,"v":-5.3},{"t":32,"w":270,"v":-5.25},{"t":32,"w":280,"v":-5.2},{"t":32,"w":290,"v":-5.15},{"t":32,"w":300,"v":-5.1},
{"t":28,"w":190,"v":9.8},{"t":28,"w":191,"v":12.5},{"t":28,"w":192,"v":14.8},{"t":28,"w":193,"v":15.9},{"t":28,"w":194,"v":16.2},{"t":28,"w":195,"v":16.1},{"t":28,"w":196,"v":14.8},{"t":28,"w":197,"v":11.2},{"t":28,"w":198,"v":6.0},{"t":28,"w":199,"v":0.8},{"t":28,"w":200,"v":-4.0},{"t":28,"w":201,"v":-9.4},{"t":28,"w":202,"v":-14.2},{"t":28,"w":203,"v":-17.3},{"t":28,"w":204,"v":-19.3},{"t":28,"w":205,"v":-20.6},{"t":28,"w":206,"v":-21.6},{"t":28,"w":207,"v":-22.0},{"t":28,"w":208,"v":-22.1},{"t":28,"w":210,"v":-21.7},{"t":28,"w":212,"v":-21.0},{"t":28,"w":213,"v":-20.8},{"t":28,"w":214,"v":-20.9},{"t":28,"w":216,"v":-21.3},{"t":28,"w":218,"v":-21.7},{"t":28,"w":220,"v":-21.8},{"t":28,"w":222,"v":-21.1},{"t":28,"w":224,"v":-19.7},{"t":28,"w":226,"v":-17.9},{"t":28,"w":228,"v":-15.9},{"t":28,"w":230,"v":-14.1},{"t":28,"w":232,"v":-12.5},{"t":28,"w":234,"v":-11.0},{"t":28,"w":236,"v":-9.6},{"t":28,"w":238,"v":-8.3},{"t":28,"w":240,"v":-7.3},{"t":28,"w":242,"v":-6.5},{"t":28,"w":245,"v":-5.8},{"t":28,"w":250,"v":-5.3},{"t":28,"w":260,"v":-5.25},{"t":28,"w":270,"v":-5.2},{"t":28,"w":280,"v":-5.2},{"t":28,"w":290,"v":-5.1},{"t":28,"w":300,"v":-5.1},
{"t":24,"w":190,"v":10.8},{"t":24,"w":191,"v":13.6},{"t":24,"w":192,"v":16.0},{"t":24,"w":193,"v":17.2},{"t":24,"w":194,"v":17.6},{"t":24,"w":195,"v":17.5},{"t":24,"w":196,"v":16.0},{"t":24,"w":197,"v":11.9},{"t":24,"w":198,"v":6.3},{"t":24,"w":199,"v":0.9},{"t":24,"w":200,"v":-4.0},{"t":24,"w":201,"v":-9.5},{"t":24,"w":202,"v":-14.4},{"t":24,"w":203,"v":-17.6},{"t":24,"w":204,"v":-19.6},{"t":24,"w":205,"v":-21.0},{"t":24,"w":206,"v":-22.0},{"t":24,"w":207,"v":-22.5},{"t":24,"w":208,"v":-22.6},{"t":24,"w":210,"v":-22.2},{"t":24,"w":212,"v":-21.5},{"t":24,"w":213,"v":-21.3},{"t":24,"w":214,"v":-21.4},{"t":24,"w":216,"v":-21.9},{"t":24,"w":218,"v":-22.3},{"t":24,"w":220,"v":-22.4},{"t":24,"w":222,"v":-21.7},{"t":24,"w":224,"v":-20.1},{"t":24,"w":226,"v":-18.2},{"t":24,"w":228,"v":-16.1},{"t":24,"w":230,"v":-14.3},{"t":24,"w":232,"v":-12.6},{"t":24,"w":234,"v":-11.05},{"t":24,"w":236,"v":-9.6},{"t":24,"w":238,"v":-8.3},{"t":24,"w":240,"v":-7.3},{"t":24,"w":242,"v":-6.5},{"t":24,"w":245,"v":-5.8},{"t":24,"w":250,"v":-5.3},{"t":24,"w":260,"v":-5.25},{"t":24,"w":270,"v":-5.2},{"t":24,"w":280,"v":-5.15},{"t":24,"w":290,"v":-5.1},{"t":24,"w":300,"v":-5.1},
{"t":20,"w":190,"v":12.0},{"t":20,"w":191,"v":14.8},{"t":20,"w":192,"v":17.0},{"t":20,"w":193,"v":18.3},{"t":20,"w":194,"v":18.8},{"t":20,"w":195,"v":18.7},{"t":20,"w":196,"v":17.0},{"t":20,"w":197,"v":12.5},{"t":20,"w":198,"v":6.5},{"t":20,"w":199,"v":1.0},{"t":20,"w":200,"v":-4.0},{"t":20,"w":201,"v":-9.5},{"t":20,"w":202,"v":-14.5},{"t":20,"w":203,"v":-17.8},{"t":20,"w":204,"v":-19.8},{"t":20,"w":205,"v":-21.3},{"t":20,"w":206,"v":-22.4},{"t":20,"w":207,"v":-23.0},{"t":20,"w":208,"v":-23.1},{"t":20,"w":210,"v":-22.7},{"t":20,"w":212,"v":-22.0},{"t":20,"w":213,"v":-21.8},{"t":20,"w":214,"v":-21.9},{"t":20,"w":216,"v":-22.5},{"t":20,"w":218,"v":-23.0},{"t":20,"w":220,"v":-23.1},{"t":20,"w":222,"v":-22.2},{"t":20,"w":224,"v":-20.4},{"t":20,"w":226,"v":-18.4},{"t":20,"w":228,"v":-16.3},{"t":20,"w":230,"v":-14.4},{"t":20,"w":232,"v":-12.7},{"t":20,"w":234,"v":-11.1},{"t":20,"w":236,"v":-9.6},{"t":20,"w":238,"v":-8.3},{"t":20,"w":240,"v":-7.3},{"t":20,"w":242,"v":-6.5},{"t":20,"w":245,"v":-5.8},{"t":20,"w":250,"v":-5.3},{"t":20,"w":260,"v":-5.25},{"t":20,"w":270,"v":-5.2},{"t":20,"w":280,"v":-5.15},{"t":20,"w":290,"v":-5.1},{"t":20,"w":300,"v":-5.05}
],
"D": [
{"t":46,"w":190,"v":0.8},{"t":46,"w":191,"v":0.2},{"t":46,"w":192,"v":-0.5},{"t":46,"w":193,"v":0.4},{"t":46,"w":194,"v":0.9},{"t":46,"w":195,"v":-0.3},{"t":46,"w":196,"v":0.5},{"t":46,"w":197,"v":0.3},{"t":46,"w":198,"v":-0.5},{"t":46,"w":199,"v":-2.8},{"t":46,"w":200,"v":-5.0},{"t":46,"w":201,"v":-6.4},{"t":46,"w":202,"v":-7.1},{"t":46,"w":203,"v":-7.2},{"t":46,"w":204,"v":-6.6},{"t":46,"w":205,"v":-5.7},{"t":46,"w":206,"v":-4.8},{"t":46,"w":207,"v":-4.0},{"t":46,"w":208,"v":-3.5},{"t":46,"w":209,"v":-3.1},{"t":46,"w":210,"v":-2.9},{"t":46,"w":212,"v":-2.75},{"t":46,"w":214,"v":-2.7},{"t":46,"w":216,"v":-2.35},{"t":46,"w":218,"v":-2.2},{"t":46,"w":220,"v":-2.3},{"t":46,"w":222,"v":-2.4},{"t":46,"w":224,"v":-2.4},{"t":46,"w":226,"v":-2.3},{"t":46,"w":228,"v":-2.1},{"t":46,"w":230,"v":-1.9},{"t":46,"w":232,"v":-1.65},{"t":46,"w":234,"v":-1.4},{"t":46,"w":236,"v":-1.15},{"t":46,"w":238,"v":-1.0},{"t":46,"w":240,"v":-0.85},{"t":46,"w":242,"v":-0.75},{"t":46,"w":245,"v":-0.6},{"t":46,"w":250,"v":-0.5},{"t":46,"w":255,"v":-0.4},{"t":46,"w":260,"v":-0.35},{"t":46,"w":270,"v":-0.25},{"t":46,"w":280,"v":-0.1},{"t":46,"w":290,"v":-0.05},{"t":46,"w":300,"v":-0.05},
{"t":42,"w":190,"v":-0.3},{"t":42,"w":191,"v":0.4},{"t":42,"w":192,"v":-0.8},{"t":42,"w":193,"v":-0.4},{"t":42,"w":194,"v":0.2},{"t":42,"w":195,"v":0.6},{"t":42,"w":196,"v":0.8},{"t":42,"w":197,"v":0.9},{"t":42,"w":198,"v":-0.2},{"t":42,"w":199,"v":-3.0},{"t":42,"w":200,"v":-5.2},{"t":42,"w":201,"v":-6.3},{"t":42,"w":202,"v":-6.8},{"t":42,"w":203,"v":-6.6},{"t":42,"w":204,"v":-5.8},{"t":42,"w":205,"v":-4.7},{"t":42,"w":206,"v":-3.7},{"t":42,"w":207,"v":-2.8},{"t":42,"w":208,"v":-2.2},{"t":42,"w":209,"v":-1.8},{"t":42,"w":210,"v":-1.6},{"t":42,"w":212,"v":-1.45},{"t":42,"w":214,"v":-1.4},{"t":42,"w":216,"v":-1.45},{"t":42,"w":218,"v":-1.5},{"t":42,"w":220,"v":-1.55},{"t":42,"w":222,"v":-1.6},{"t":42,"w":224,"v":-1.6},{"t":42,"w":226,"v":-1.55},{"t":42,"w":228,"v":-1.4},{"t":42,"w":230,"v":-1.2},{"t":42,"w":232,"v":-1.0},{"t":42,"w":234,"v":-0.85},{"t":42,"w":236,"v":-0.7},{"t":42,"w":238,"v":-0.5},{"t":42,"w":240,"v":-0.3},{"t":42,"w":242,"v":-0.2},{"t":42,"w":245,"v":-0.1},{"t":42,"w":250,"v":0.0},{"t":42,"w":255,"v":0.0},{"t":42,"w":260,"v":0.0},{"t":42,"w":270,"v":0.05},{"t":42,"w":280,"v":0.1},{"t":42,"w":290,"v":0.05},{"t":42,"w":300,"v":0.0},
{"t":40,"w":190,"v":0.0},{"t":40,"w":191,"v":0.5},{"t":40,"w":192,"v":0.2},{"t":40,"w":193,"v":-0.6},{"t":40,"w":194,"v":1.0},{"t":40,"w":195,"v":2.8},{"t":40,"w":196,"v":0.5},{"t":40,"w":197,"v":0.3},{"t":40,"w":198,"v":-1.0},{"t":40,"w":199,"v":-4.0},{"t":40,"w":200,"v":-6.8},{"t":40,"w":201,"v":-8.2},{"t":40,"w":202,"v":-8.8},{"t":40,"w":203,"v":-7.8},{"t":40,"w":204,"v":-6.8},{"t":40,"w":205,"v":-5.8},{"t":40,"w":206,"v":-4.8},{"t":40,"w":207,"v":-4.0},{"t":40,"w":208,"v":-3.4},{"t":40,"w":209,"v":-2.9},{"t":40,"w":210,"v":-2.6},{"t":40,"w":212,"v":-2.3},{"t":40,"w":214,"v":-2.1},{"t":40,"w":216,"v":-2.15},{"t":40,"w":218,"v":-2.2},{"t":40,"w":220,"v":-2.3},{"t":40,"w":222,"v":-2.2},{"t":40,"w":224,"v":-2.0},{"t":40,"w":226,"v":-1.85},{"t":40,"w":228,"v":-1.65},{"t":40,"w":230,"v":-1.4},{"t":40,"w":232,"v":-1.15},{"t":40,"w":234,"v":-0.9},{"t":40,"w":236,"v":-0.7},{"t":40,"w":238,"v":-0.55},{"t":40,"w":240,"v":-0.4},{"t":40,"w":242,"v":-0.3},{"t":40,"w":245,"v":-0.25},{"t":40,"w":250,"v":-0.2},{"t":40,"w":255,"v":-0.2},{"t":40,"w":260,"v":-0.15},{"t":40,"w":270,"v":-0.15},{"t":40,"w":280,"v":-0.15},{"t":40,"w":290,"v":-0.15},{"t":40,"w":300,"v":-0.15},
{"t":38,"w":190,"v":0.4},{"t":38,"w":191,"v":0.0},{"t":38,"w":192,"v":0.3},{"t":38,"w":193,"v":0.8},{"t":38,"w":194,"v":0.4},{"t":38,"w":195,"v":0.0},{"t":38,"w":196,"v":0.4},{"t":38,"w":197,"v":0.5},{"t":38,"w":198,"v":-1.0},{"t":38,"w":199,"v":-3.3},{"t":38,"w":200,"v":-5.0},{"t":38,"w":201,"v":-5.6},{"t":38,"w":202,"v":-5.7},{"t":38,"w":203,"v":-5.4},{"t":38,"w":204,"v":-5.0},{"t":38,"w":205,"v":-4.4},{"t":38,"w":206,"v":-3.6},{"t":38,"w":207,"v":-3.0},{"t":38,"w":208,"v":-2.5},{"t":38,"w":209,"v":-2.0},{"t":38,"w":210,"v":-1.6},{"t":38,"w":212,"v":-1.3},{"t":38,"w":214,"v":-1.1},{"t":38,"w":216,"v":-1.0},{"t":38,"w":218,"v":-1.1},{"t":38,"w":220,"v":-1.2},{"t":38,"w":222,"v":-1.25},{"t":38,"w":224,"v":-1.2},{"t":38,"w":226,"v":-1.1},{"t":38,"w":228,"v":-1.0},{"t":38,"w":230,"v":-0.9},{"t":38,"w":232,"v":-0.8},{"t":38,"w":234,"v":-0.65},{"t":38,"w":236,"v":-0.5},{"t":38,"w":238,"v":-0.35},{"t":38,"w":240,"v":-0.2},{"t":38,"w":242,"v":-0.1},{"t":38,"w":245,"v":0.0},{"t":38,"w":250,"v":0.05},{"t":38,"w":255,"v":0.1},{"t":38,"w":260,"v":0.05},{"t":38,"w":270,"v":0.15},{"t":38,"w":280,"v":0.15},{"t":38,"w":290,"v":0.2},{"t":38,"w":300,"v":0.2},
{"t":36,"w":190,"v":-0.2},{"t":36,"w":191,"v":0.3},{"t":36,"w":192,"v":0.8},{"t":36,"w":193,"v":0.1},{"t":36,"w":194,"v":-0.5},{"t":36,"w":195,"v":0.3},{"t":36,"w":196,"v":0.6},{"t":36,"w":197,"v":0.2},{"t":36,"w":198,"v":-1.5},{"t":36,"w":199,"v":-3.8},{"t":36,"w":200,"v":-6.0},{"t":36,"w":201,"v":-7.3},{"t":36,"w":202,"v":-7.2},{"t":36,"w":203,"v":-6.2},{"t":36,"w":204,"v":-5.0},{"t":36,"w":205,"v":-4.0},{"t":36,"w":206,"v":-3.2},{"t":36,"w":207,"v":-2.5},{"t":36,"w":208,"v":-2.0},{"t":36,"w":209,"v":-1.6},{"t":36,"w":210,"v":-1.3},{"t":36,"w":212,"v":-1.05},{"t":36,"w":214,"v":-0.9},{"t":36,"w":216,"v":-1.05},{"t":36,"w":218,"v":-1.2},{"t":36,"w":220,"v":-1.15},{"t":36,"w":222,"v":-1.3},{"t":36,"w":224,"v":-1.2},{"t":36,"w":226,"v":-1.15},{"t":36,"w":228,"v":-1.0},{"t":36,"w":230,"v":-0.9},{"t":36,"w":232,"v":-0.8},{"t":36,"w":234,"v":-0.7},{"t":36,"w":236,"v":-0.5},{"t":36,"w":238,"v":-0.35},{"t":36,"w":240,"v":-0.2},{"t":36,"w":242,"v":0.0},{"t":36,"w":245,"v":0.15},{"t":36,"w":250,"v":0.2},{"t":36,"w":255,"v":0.1},{"t":36,"w":260,"v":0.05},{"t":36,"w":270,"v":0.1},{"t":36,"w":280,"v":0.15},{"t":36,"w":290,"v":0.15},{"t":36,"w":300,"v":0.15},
{"t":32,"w":190,"v":1.3},{"t":32,"w":191,"v":0.8},{"t":32,"w":192,"v":1.6},{"t":32,"w":193,"v":0.3},{"t":32,"w":194,"v":-0.8},{"t":32,"w":195,"v":-1.0},{"t":32,"w":196,"v":0.2},{"t":32,"w":197,"v":0.7},{"t":32,"w":198,"v":-0.6},{"t":32,"w":199,"v":-3.2},{"t":32,"w":200,"v":-5.3},{"t":32,"w":201,"v":-6.5},{"t":32,"w":202,"v":-7.0},{"t":32,"w":203,"v":-6.8},{"t":32,"w":204,"v":-6.3},{"t":32,"w":205,"v":-5.5},{"t":32,"w":206,"v":-4.5},{"t":32,"w":207,"v":-3.6},{"t":32,"w":208,"v":-2.9},{"t":32,"w":209,"v":-2.3},{"t":32,"w":210,"v":-1.9},{"t":32,"w":212,"v":-1.6},{"t":32,"w":214,"v":-1.6},{"t":32,"w":216,"v":-1.7},{"t":32,"w":218,"v":-1.8},{"t":32,"w":220,"v":-1.75},{"t":32,"w":222,"v":-1.85},{"t":32,"w":224,"v":-1.8},{"t":32,"w":226,"v":-1.75},{"t":32,"w":228,"v":-1.6},{"t":32,"w":230,"v":-1.45},{"t":32,"w":232,"v":-1.3},{"t":32,"w":234,"v":-1.15},{"t":32,"w":236,"v":-1.0},{"t":32,"w":238,"v":-0.9},{"t":32,"w":240,"v":-0.8},{"t":32,"w":242,"v":-0.7},{"t":32,"w":245,"v":-0.6},{"t":32,"w":250,"v":-0.45},{"t":32,"w":255,"v":-0.35},{"t":32,"w":260,"v":-0.3},{"t":32,"w":270,"v":-0.2},{"t":32,"w":280,"v":-0.1},{"t":32,"w":290,"v":-0.05},{"t":32,"w":300,"v":0.0},
{"t":28,"w":190,"v":0.2},{"t":28,"w":191,"v":1.3},{"t":28,"w":192,"v":0.6},{"t":28,"w":193,"v":1.0},{"t":28,"w":194,"v":0.2},{"t":28,"w":195,"v":0.8},{"t":28,"w":196,"v":0.5},{"t":28,"w":197,"v":0.4},{"t":28,"w":198,"v":-1.2},{"t":28,"w":199,"v":-3.8},{"t":28,"w":200,"v":-5.8},{"t":28,"w":201,"v":-6.7},{"t":28,"w":202,"v":-6.7},{"t":28,"w":203,"v":-6.5},{"t":28,"w":204,"v":-6.3},{"t":28,"w":205,"v":-5.8},{"t":28,"w":206,"v":-5.0},{"t":28,"w":207,"v":-4.2},{"t":28,"w":208,"v":-3.5},{"t":28,"w":209,"v":-2.9},{"t":28,"w":210,"v":-2.5},{"t":28,"w":212,"v":-2.2},{"t":28,"w":214,"v":-2.0},{"t":28,"w":216,"v":-2.05},{"t":28,"w":218,"v":-2.2},{"t":28,"w":220,"v":-2.35},{"t":28,"w":222,"v":-2.45},{"t":28,"w":224,"v":-2.3},{"t":28,"w":226,"v":-2.2},{"t":28,"w":228,"v":-2.0},{"t":28,"w":230,"v":-1.8},{"t":28,"w":232,"v":-1.5},{"t":28,"w":234,"v":-1.1},{"t":28,"w":236,"v":-0.8},{"t":28,"w":238,"v":-0.5},{"t":28,"w":240,"v":-0.35},{"t":28,"w":242,"v":-0.2},{"t":28,"w":245,"v":-0.05},{"t":28,"w":250,"v":0.0},{"t":28,"w":255,"v":0.05},{"t":28,"w":260,"v":0.05},{"t":28,"w":270,"v":0.1},{"t":28,"w":280,"v":0.2},{"t":28,"w":290,"v":0.15},{"t":28,"w":300,"v":0.15},
{"t":24,"w":190,"v":0.5},{"t":24,"w":191,"v":0.0},{"t":24,"w":192,"v":-0.4},{"t":24,"w":193,"v":0.3},{"t":24,"w":194,"v":-0.2},{"t":24,"w":195,"v":0.4},{"t":24,"w":196,"v":0.2},{"t":24,"w":197,"v":0.5},{"t":24,"w":198,"v":-0.8},{"t":24,"w":199,"v":-3.5},{"t":24,"w":200,"v":-5.5},{"t":24,"w":201,"v":-6.5},{"t":24,"w":202,"v":-6.8},{"t":24,"w":203,"v":-6.6},{"t":24,"w":204,"v":-6.7},{"t":24,"w":205,"v":-6.6},{"t":24,"w":206,"v":-6.0},{"t":24,"w":207,"v":-5.2},{"t":24,"w":208,"v":-4.5},{"t":24,"w":209,"v":-3.9},{"t":24,"w":210,"v":-3.5},{"t":24,"w":212,"v":-3.2},{"t":24,"w":214,"v":-3.0},{"t":24,"w":216,"v":-2.9},{"t":24,"w":218,"v":-3.1},{"t":24,"w":220,"v":-3.2},{"t":24,"w":222,"v":-3.35},{"t":24,"w":224,"v":-3.0},{"t":24,"w":226,"v":-2.9},{"t":24,"w":228,"v":-2.6},{"t":24,"w":230,"v":-2.1},{"t":24,"w":232,"v":-1.6},{"t":24,"w":234,"v":-1.1},{"t":24,"w":236,"v":-0.7},{"t":24,"w":238,"v":-0.5},{"t":24,"w":240,"v":-0.35},{"t":24,"w":242,"v":-0.25},{"t":24,"w":245,"v":-0.1},{"t":24,"w":250,"v":0.0},{"t":24,"w":255,"v":0.05},{"t":24,"w":260,"v":0.0},{"t":24,"w":270,"v":0.05},{"t":24,"w":280,"v":0.1},{"t":24,"w":290,"v":0.1},{"t":24,"w":300,"v":0.1},
{"t":20,"w":190,"v":0.3},{"t":20,"w":191,"v":-0.3},{"t":20,"w":192,"v":0.5},{"t":20,"w":193,"v":0.0},{"t":20,"w":194,"v":0.6},{"t":20,"w":195,"v":0.8},{"t":20,"w":196,"v":0.6},{"t":20,"w":197,"v":0.8},{"t":20,"w":198,"v":-0.5},{"t":20,"w":199,"v":-3.0},{"t":20,"w":200,"v":-5.5},{"t":20,"w":201,"v":-7.3},{"t":20,"w":202,"v":-7.8},{"t":20,"w":203,"v":-7.6},{"t":20,"w":204,"v":-7.9},{"t":20,"w":205,"v":-7.9},{"t":20,"w":206,"v":-7.5},{"t":20,"w":207,"v":-6.6},{"t":20,"w":208,"v":-5.8},{"t":20,"w":209,"v":-5.1},{"t":20,"w":210,"v":-4.6},{"t":20,"w":212,"v":-4.2},{"t":20,"w":214,"v":-4.0},{"t":20,"w":216,"v":-3.7},{"t":20,"w":218,"v":-4.0},{"t":20,"w":220,"v":-4.15},{"t":20,"w":222,"v":-4.2},{"t":20,"w":224,"v":-4.0},{"t":20,"w":226,"v":-3.8},{"t":20,"w":228,"v":-3.4},{"t":20,"w":230,"v":-2.7},{"t":20,"w":232,"v":-2.0},{"t":20,"w":234,"v":-1.4},{"t":20,"w":236,"v":-0.9},{"t":20,"w":238,"v":-0.6},{"t":20,"w":240,"v":-0.4},{"t":20,"w":242,"v":-0.25},{"t":20,"w":245,"v":-0.15},{"t":20,"w":250,"v":0.0},{"t":20,"w":255,"v":0.05},{"t":20,"w":260,"v":0.0},{"t":20,"w":270,"v":0.05},{"t":20,"w":280,"v":0.1},{"t":20,"w":290,"v":0.15},{"t":20,"w":300,"v":0.15}
]
},
"bounds": "flush",
"columns": 2,
"spacing": {"row": 50, "column": 60},
"resolve": {"scale": {"color": "independent"}},
"concat": [
  {
   "width": 357, "height": 313,
   "resolve": {"axis": {"x": "independent", "y": "independent"}},
   "layer": [
    {"data": {"name": "A"}, "mark": {"type": "line", "strokeWidth": 1.1},
     "encoding": {
      "x": {"field": "w", "type": "quantitative", "scale": {"domain": [190, 300], "nice": false, "zero": false}, "axis": {"values": [190,200,210,220,230,240,250,260,270,280,290,300], "labelExpr": "datum.value % 20 == 0 && datum.value > 190 ? datum.label : ''", "title": null}},
      "y": {"field": "v", "type": "quantitative", "scale": {"domain": [-12, 4], "nice": false, "zero": false}, "axis": {"values": [4,2,0,-2,-4,-6,-8,-10,-12], "labelExpr": "datum.value % 4 == 0 ? datum.label : ''", "title": "[θ] /10³ deg cm² dmol⁻¹"}},
      "color": {"field": "t", "type": "nominal", "scale": {"domain": [46,42,40,38,36,32,28,24,20], "range": ["#7fcbdc","#7d4fae","#b34fb5","#dcbfb2","#f2a24e","#4f4fc4","#6cc64c","#df4f4f","#333333"]},
        "legend": {"title": "T/ºC", "orient": "bottom-right", "offset": 5, "symbolType": "stroke", "symbolSize": 441, "symbolStrokeWidth": 1.6, "labelFont": "Liberation Sans", "labelFontSize": 18, "labelColor": "#111111", "titleFont": "Liberation Sans", "titleFontSize": 18, "titleFontWeight": "normal", "titleColor": "#111111", "labelAlign": "right", "labelOffset": -30, "symbolOffset": 40, "strokeColor": "#444444", "fillColor": "white", "padding": 9, "rowPadding": 0.5, "titlePadding": 2}}
     }},
    {"data": {"values": [{}]}, "mark": {"type": "text", "text": "A", "fontWeight": "bold", "fontSize": 23, "align": "left", "baseline": "alphabetic", "color": "#111111"},
     "encoding": {
      "x": {"datum": 199.7, "type": "quantitative", "scale": {"domain": [190, 300], "nice": false, "zero": false}, "axis": {"orient": "top", "values": [190,200,210,220,230,240,250,260,270,280,290,300], "labels": false, "title": null}},
      "y": {"datum": 2.42, "type": "quantitative", "scale": {"domain": [-12, 4], "nice": false, "zero": false}, "axis": {"orient": "right", "values": [4,2,0,-2,-4,-6,-8,-10,-12], "labels": false, "title": null}}
     }},
    {"data": {"values": [{}]}, "mark": {"type": "text", "text": "DPPC", "fontSize": 23, "align": "left", "baseline": "alphabetic", "color": "#111111"},
     "encoding": {
      "x": {"datum": 210.2, "type": "quantitative", "axis": null},
      "y": {"datum": 2.42, "type": "quantitative", "axis": null}
     }}
   ]
  },
  {
   "width": 357, "height": 313,
   "resolve": {"axis": {"x": "independent", "y": "independent"}},
   "layer": [
    {"data": {"name": "B"}, "mark": {"type": "line", "strokeWidth": 1.1},
     "encoding": {
      "x": {"field": "w", "type": "quantitative", "scale": {"domain": [190, 300], "nice": false, "zero": false}, "axis": {"values": [190,200,210,220,230,240,250,260,270,280,290,300], "labelExpr": "datum.value % 20 == 0 && datum.value > 190 ? datum.label : ''", "title": null}},
      "y": {"field": "v", "type": "quantitative", "scale": {"domain": [-12, 4], "nice": false, "zero": false}, "axis": {"values": [4,2,0,-2,-4,-6,-8,-10,-12], "labelExpr": "datum.value % 4 == 0 ? datum.label : ''", "title": null}},
      "color": {"field": "t", "type": "nominal", "scale": {"domain": [46,42,40,38,36,32,28,24,20], "range": ["#7fcbdc","#7d4fae","#b34fb5","#dcbfb2","#f2a24e","#4f4fc4","#6cc64c","#df4f4f","#333333"]}, "legend": null}
     }},
    {"data": {"values": [{}]}, "mark": {"type": "text", "text": "B", "fontWeight": "bold", "fontSize": 23, "align": "left", "baseline": "alphabetic", "color": "#111111"},
     "encoding": {
      "x": {"datum": 200.4, "type": "quantitative", "scale": {"domain": [190, 300], "nice": false, "zero": false}, "axis": {"orient": "top", "values": [190,200,210,220,230,240,250,260,270,280,290,300], "labels": false, "title": null}},
      "y": {"datum": 2.4, "type": "quantitative", "scale": {"domain": [-12, 4], "nice": false, "zero": false}, "axis": {"orient": "right", "values": [4,2,0,-2,-4,-6,-8,-10,-12], "labels": false, "title": null}}
     }},
    {"data": {"values": [{}]}, "mark": {"type": "text", "text": "DPPC + salt", "fontSize": 23, "align": "left", "baseline": "alphabetic", "color": "#111111"},
     "encoding": {
      "x": {"datum": 209.7, "type": "quantitative", "axis": null},
      "y": {"datum": 2.4, "type": "quantitative", "axis": null}
     }}
   ]
  },
  {
   "width": 357, "height": 313,
   "resolve": {"axis": {"x": "independent", "y": "independent"}},
   "layer": [
    {"data": {"name": "C"}, "mark": {"type": "line", "strokeWidth": 1.1, "interpolate": "monotone"},
     "encoding": {
      "x": {"field": "w", "type": "quantitative", "scale": {"domain": [190, 300], "nice": false, "zero": false}, "axis": {"values": [190,200,210,220,230,240,250,260,270,280,290,300], "labelExpr": "datum.value % 20 == 0 && datum.value > 190 ? datum.label : ''", "title": "Wavelength/nm"}},
      "y": {"field": "v", "type": "quantitative", "scale": {"domain": [-25, 20], "nice": false, "zero": false}, "axis": {"values": [20,15,10,5,0,-5,-10,-15,-20,-25], "labelExpr": "datum.value % 10 == 0 ? datum.label : ''", "title": "[θ] /10³ deg cm² dmol⁻¹"}},
      "color": {"field": "t", "type": "nominal", "scale": {"domain": [46,42,40,38,36,32,28,24,20], "range": ["#7fcbdc","#7d4fae","#b34fb5","#dcbfb2","#f2a24e","#4f4fc4","#6cc64c","#df4f4f","#333333"]}, "legend": null}
     }},
    {"data": {"values": [{}]}, "mark": {"type": "text", "text": "C", "fontWeight": "bold", "fontSize": 23, "align": "left", "baseline": "alphabetic", "color": "#111111"},
     "encoding": {
      "x": {"datum": 202.8, "type": "quantitative", "scale": {"domain": [190, 300], "nice": false, "zero": false}, "axis": {"orient": "top", "values": [190,200,210,220,230,240,250,260,270,280,290,300], "labels": false, "title": null}},
      "y": {"datum": 15.2, "type": "quantitative", "scale": {"domain": [-25, 20], "nice": false, "zero": false}, "axis": {"orient": "right", "values": [20,15,10,5,0,-5,-10,-15,-20,-25], "labels": false, "title": null}}
     }},
    {"data": {"values": [{}]}, "mark": {"type": "text", "text": "DPPC/DPPG (1:1)", "fontSize": 23, "align": "left", "baseline": "alphabetic", "color": "#111111"},
     "encoding": {
      "x": {"datum": 211, "type": "quantitative", "axis": null},
      "y": {"datum": 15.2, "type": "quantitative", "axis": null}
     }}
   ]
  },
  {
   "width": 357, "height": 313,
   "resolve": {"axis": {"x": "independent", "y": "independent"}},
   "layer": [
    {"data": {"name": "D"}, "mark": {"type": "line", "strokeWidth": 1.1},
     "encoding": {
      "x": {"field": "w", "type": "quantitative", "scale": {"domain": [190, 300], "nice": false, "zero": false}, "axis": {"values": [190,200,210,220,230,240,250,260,270,280,290,300], "labelExpr": "datum.value % 20 == 0 && datum.value > 190 ? datum.label : ''", "title": "Wavelength/nm"}},
      "y": {"field": "v", "type": "quantitative", "scale": {"domain": [-12, 4], "nice": false, "zero": false}, "axis": {"values": [4,2,0,-2,-4,-6,-8,-10,-12], "labelExpr": "datum.value % 4 == 0 ? datum.label : ''", "title": null}},
      "color": {"field": "t", "type": "nominal", "scale": {"domain": [46,42,40,38,36,32,28,24,20], "range": ["#7fcbdc","#7d4fae","#b34fb5","#dcbfb2","#f2a24e","#4f4fc4","#6cc64c","#df4f4f","#333333"]}, "legend": null}
     }},
    {"data": {"values": [{}]}, "mark": {"type": "text", "text": "D", "fontWeight": "bold", "fontSize": 23, "align": "left", "baseline": "alphabetic", "color": "#111111"},
     "encoding": {
      "x": {"datum": 202.7, "type": "quantitative", "scale": {"domain": [190, 300], "nice": false, "zero": false}, "axis": {"orient": "top", "values": [190,200,210,220,230,240,250,260,270,280,290,300], "labels": false, "title": null}},
      "y": {"datum": 2.33, "type": "quantitative", "scale": {"domain": [-12, 4], "nice": false, "zero": false}, "axis": {"orient": "right", "values": [4,2,0,-2,-4,-6,-8,-10,-12], "labels": false, "title": null}}
     }},
    {"data": {"values": [{}]}, "mark": {"type": "text", "text": "DPPC/DPPG (1:1) + salt", "fontSize": 23, "align": "left", "baseline": "alphabetic", "color": "#111111"},
     "encoding": {
      "x": {"datum": 211.4, "type": "quantitative", "axis": null},
      "y": {"datum": 2.33, "type": "quantitative", "axis": null}
     }}
   ]
  }
]
}
